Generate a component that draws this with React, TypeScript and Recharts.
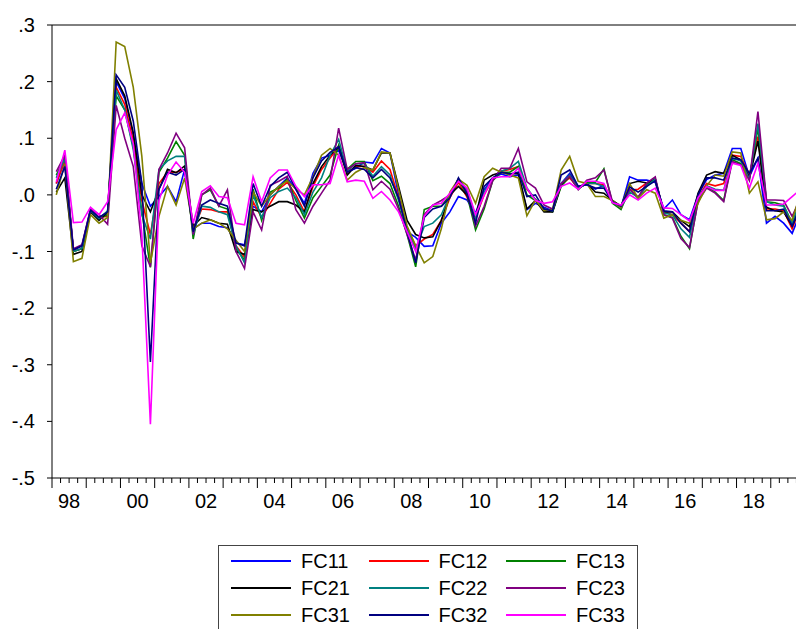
import React from 'react';
import { LineChart, Line, XAxis, YAxis, ReferenceLine } from 'recharts';

// Quarterly observations 1998Q1 .. 2019Q4 (88 quarters)
const FC11 = [0.02, 0.06, -0.098, -0.09, -0.025, -0.04, -0.035, 0.2, 0.17, 0.105, 0.02, -0.02, -0.003, 0.015, -0.012, 0.045, -0.06, -0.05, -0.05, -0.056, -0.058, -0.085, -0.088, -0.02, -0.03, 0.0, 0.015, 0.03, 0.01, -0.015, 0.038, 0.065, 0.07, 0.079, 0.04, 0.047, 0.058, 0.056, 0.082, 0.074, 0.0, -0.065, -0.075, -0.091, -0.09, -0.05, -0.03, -0.003, -0.009, -0.032, 0.009, 0.03, 0.037, 0.032, 0.035, -0.026, -0.015, -0.022, -0.028, 0.02, 0.038, 0.015, 0.018, 0.01, 0.017, -0.012, -0.022, 0.032, 0.026, 0.026, 0.022, -0.025, -0.009, -0.035, -0.044, 0.0, 0.027, 0.035, 0.038, 0.082, 0.082, 0.032, 0.065, -0.05, -0.038, -0.05, -0.068, -0.03];
const FC12 = [0.02, 0.062, -0.1, -0.095, -0.028, -0.04, -0.038, 0.19, 0.16, 0.095, -0.01, -0.07, 0.02, 0.04, 0.04, 0.045, -0.062, -0.025, -0.026, -0.03, -0.03, -0.09, -0.11, -0.012, -0.04, -0.015, 0.01, 0.022, 0.0, -0.03, 0.015, 0.045, 0.065, 0.085, 0.04, 0.05, 0.05, 0.04, 0.06, 0.045, -0.005, -0.06, -0.09, -0.078, -0.07, -0.045, -0.005, 0.022, -0.004, -0.04, 0.0, 0.028, 0.042, 0.045, 0.05, 0.01, -0.008, -0.025, -0.028, 0.018, 0.03, 0.012, 0.02, 0.02, 0.018, -0.012, -0.022, 0.008, 0.01, 0.021, 0.025, -0.03, -0.035, -0.05, -0.065, -0.005, 0.02, 0.016, 0.02, 0.07, 0.068, 0.035, 0.103, -0.025, -0.025, -0.028, -0.06, -0.02];
const FC13 = [0.035, 0.065, -0.1, -0.095, -0.028, -0.042, -0.035, 0.175, 0.15, 0.085, -0.03, -0.128, 0.04, 0.065, 0.094, 0.07, -0.078, 0.0, 0.009, -0.02, -0.025, -0.095, -0.115, 0.01, -0.045, 0.005, 0.012, 0.028, -0.01, -0.041, -0.005, 0.015, 0.035, 0.088, 0.045, 0.059, 0.059, 0.025, 0.033, 0.02, -0.02, -0.07, -0.127, -0.026, -0.02, -0.02, 0.0, 0.028, 0.0, -0.062, -0.025, 0.025, 0.04, 0.04, 0.05, 0.0, -0.01, -0.025, -0.03, 0.015, 0.033, 0.01, 0.022, 0.022, 0.046, -0.015, -0.026, 0.01, -0.006, 0.018, 0.028, -0.035, -0.04, -0.073, -0.095, -0.01, 0.015, 0.005, -0.01, 0.062, 0.055, 0.03, 0.118, -0.012, -0.014, -0.018, -0.05, -0.01];
const FC21 = [0.005, 0.03, -0.105, -0.1, -0.03, -0.045, -0.03, 0.205, 0.175, 0.11, 0.0, -0.03, 0.01, 0.045, 0.039, 0.051, -0.055, -0.04, -0.044, -0.05, -0.052, -0.1, -0.105, -0.026, -0.03, -0.02, -0.012, -0.012, -0.018, -0.03, 0.02, 0.05, 0.07, 0.085, 0.035, 0.052, 0.05, 0.044, 0.074, 0.074, 0.015, -0.045, -0.07, -0.076, -0.074, -0.045, 0.0, 0.015, 0.0, -0.04, 0.026, 0.035, 0.04, 0.037, 0.038, -0.025, -0.01, -0.03, -0.03, 0.018, 0.035, 0.012, 0.02, 0.005, 0.003, -0.01, -0.02, 0.02, 0.024, 0.021, 0.028, -0.03, -0.03, -0.045, -0.056, 0.003, 0.035, 0.041, 0.038, 0.07, 0.062, 0.03, 0.095, -0.022, -0.028, -0.03, -0.055, -0.02];
const FC22 = [0.03, 0.065, -0.1, -0.095, -0.028, -0.042, -0.028, 0.185, 0.15, 0.08, -0.035, -0.078, 0.045, 0.06, 0.068, 0.068, -0.07, -0.02, -0.022, -0.03, -0.035, -0.09, -0.12, 0.0, -0.04, -0.005, 0.006, 0.012, -0.005, -0.035, 0.005, 0.03, 0.07, 0.098, 0.042, 0.055, 0.055, 0.033, 0.05, 0.035, -0.01, -0.06, -0.095, -0.056, -0.05, -0.035, 0.0, 0.026, 0.01, -0.04, 0.005, 0.028, 0.042, 0.047, 0.059, 0.012, -0.008, -0.025, -0.028, 0.02, 0.035, 0.012, 0.02, 0.02, 0.015, -0.012, -0.022, 0.005, -0.004, 0.015, 0.028, -0.032, -0.035, -0.06, -0.075, -0.005, 0.016, 0.01, 0.008, 0.065, 0.06, 0.028, 0.126, -0.012, -0.018, -0.02, -0.05, -0.01];
const FC23 = [0.041, 0.07, -0.095, -0.088, -0.025, -0.035, -0.052, 0.158, 0.1, 0.05, -0.09, -0.127, 0.045, 0.074, 0.109, 0.083, -0.07, 0.0, 0.012, -0.02, 0.009, -0.1, -0.13, -0.03, -0.062, 0.017, 0.024, 0.033, -0.026, -0.05, -0.02, 0.003, 0.026, 0.118, 0.045, 0.055, 0.057, 0.009, 0.024, 0.01, -0.025, -0.07, -0.115, -0.035, -0.018, -0.01, 0.0, 0.028, 0.005, -0.055, -0.02, 0.025, 0.047, 0.047, 0.082, 0.023, 0.012, -0.018, -0.025, 0.02, 0.033, 0.009, 0.026, 0.03, 0.044, -0.012, -0.022, 0.01, -0.004, 0.021, 0.032, -0.035, -0.041, -0.077, -0.093, -0.012, 0.012, 0.003, -0.012, 0.059, 0.053, 0.025, 0.147, -0.009, -0.009, -0.01, -0.038, -0.005];
const FC31 = [0.0, 0.055, -0.118, -0.112, -0.035, -0.05, -0.04, 0.27, 0.262, 0.19, 0.068, -0.12, -0.038, 0.015, -0.018, 0.03, -0.06, -0.05, -0.044, -0.05, -0.06, -0.08, -0.1, 0.005, -0.02, 0.0, 0.015, 0.025, 0.01, 0.0, 0.032, 0.07, 0.082, 0.07, 0.026, 0.04, 0.048, 0.044, 0.076, 0.074, 0.01, -0.055, -0.09, -0.12, -0.109, -0.06, 0.005, 0.028, 0.017, -0.015, 0.032, 0.047, 0.04, 0.035, 0.03, -0.037, -0.009, -0.028, -0.026, 0.044, 0.068, 0.024, 0.02, -0.003, -0.003, -0.01, -0.022, 0.02, -0.006, 0.009, 0.003, -0.041, -0.035, -0.045, -0.05, -0.015, 0.016, 0.035, 0.033, 0.076, 0.074, 0.003, 0.023, -0.044, -0.042, -0.03, -0.045, 0.005];
const FC32 = [0.01, 0.05, -0.097, -0.09, -0.027, -0.04, -0.03, 0.212, 0.19, 0.13, 0.02, -0.295, 0.01, 0.04, 0.035, 0.045, -0.065, -0.018, -0.009, -0.015, -0.02, -0.085, -0.09, 0.02, -0.02, 0.015, 0.03, 0.04, 0.01, -0.02, 0.03, 0.06, 0.075, 0.085, 0.04, 0.048, 0.045, 0.03, 0.045, 0.03, -0.005, -0.065, -0.12, -0.04, -0.025, -0.02, -0.005, 0.03, 0.002, -0.05, 0.015, 0.03, 0.04, 0.037, 0.04, -0.003, 0.0, -0.025, -0.028, 0.035, 0.044, 0.015, 0.018, 0.012, 0.012, -0.012, -0.02, 0.014, 0.005, 0.015, 0.025, -0.028, -0.03, -0.05, -0.065, 0.0, 0.03, 0.03, 0.026, 0.065, 0.062, 0.038, 0.065, -0.028, -0.028, -0.025, -0.055, -0.02];
const FC33 = [0.023, 0.079, -0.049, -0.048, -0.022, -0.035, -0.012, 0.115, 0.145, 0.09, -0.07, -0.405, -0.01, 0.035, 0.058, 0.04, -0.05, 0.006, 0.016, -0.003, -0.005, -0.05, -0.053, 0.032, -0.012, 0.03, 0.044, 0.044, 0.015, -0.003, 0.018, 0.018, 0.02, 0.07, 0.023, 0.026, 0.024, -0.006, 0.006, -0.009, -0.03, -0.065, -0.1, -0.038, -0.018, -0.015, 0.003, 0.024, 0.012, -0.035, 0.0, 0.03, 0.032, 0.032, 0.047, 0.012, -0.01, -0.015, -0.012, 0.015, 0.021, 0.01, 0.024, 0.024, 0.02, -0.014, -0.018, 0.0, -0.009, 0.003, 0.012, -0.023, -0.024, -0.035, -0.046, -0.005, 0.015, 0.008, 0.008, 0.056, 0.052, 0.012, 0.056, -0.018, -0.018, -0.016, -0.003, 0.01];

const yTicks = [-0.5, -0.4, -0.3, -0.2, -0.1, 0.0, 0.1, 0.2, 0.3];
const yearLabels = ['98', '00', '02', '04', '06', '08', '10', '12', '14', '16', '18'];

const SERIES = [
  { key: 'FC11', values: FC11, color: '#0000FF' },
  { key: 'FC12', values: FC12, color: '#FF0000' },
  { key: 'FC13', values: FC13, color: '#008000' },
  { key: 'FC21', values: FC21, color: '#000000' },
  { key: 'FC22', values: FC22, color: '#008080' },
  { key: 'FC23', values: FC23, color: '#800080' },
  { key: 'FC31', values: FC31, color: '#808000' },
  { key: 'FC32', values: FC32, color: '#000080' },
  { key: 'FC33', values: FC33, color: '#FF00FF' },
];

const data = FC11.map((_, i) => {
  const row: Record<string, number> = { t: i };
  SERIES.forEach((s) => { row[s.key] = s.values[i]; });
  return row;
});

const nQ = FC11.length;
const xTicks = Array.from({ length: nQ + 1 }, (_, k) => k - 0.5);

const FONT = 'Arial, "Liberation Sans", Helvetica, sans-serif';

const fmtY = (v: number) => {
  const s = Math.abs(v) < 1e-9 ? '0.0' : v.toFixed(1);
  return s.replace(/^(-?)0\./, '$1.');
};

const XTick = (props: any) => {
  const { x, y, payload } = props;
  const k = Math.round(payload.value + 0.5);
  const long = k % 4 === 0;
  const label = k % 8 === 2 ? yearLabels[(k - 2) / 8] : undefined;
  return (
    <g>
      <line x1={x} x2={x} y1={y} y2={y + (long ? 10 : 5)} stroke="#000" strokeWidth={1} />
      {label !== undefined && (
        <text x={x} y={y + 30} textAnchor="middle" fontSize={20} fontFamily={FONT} fill="#000">
          {label}
        </text>
      )}
    </g>
  );
};

export default function App() {
  return (
    <div style={{ position: 'absolute', left: 0, top: 0, width: 796, height: 629, overflow: 'hidden', background: '#fff' }}>
      <LineChart width={820} height={629} data={data} margin={{ top: 25, right: 15, left: 0, bottom: 111 }}>
        <XAxis
          dataKey="t"
          type="number"
          domain={[-0.5, nQ - 0.5]}
          ticks={xTicks}
          interval={0}
          tickSize={0}
          tickMargin={0}
          tickLine={false}
          tick={<XTick />}
          height={40}
          axisLine={{ stroke: '#000' }}
          allowDataOverflow
        />
        <YAxis
          type="number"
          domain={[-0.5, 0.3]}
          ticks={yTicks}
          interval={0}
          width={52}
          tickSize={5}
          tickMargin={12}
          tickFormatter={fmtY}
          tick={{ fill: '#000', fontSize: 20, fontFamily: FONT }}
          tickLine={{ stroke: '#000' }}
          axisLine={{ stroke: '#000' }}
          allowDataOverflow
        />
        <ReferenceLine y={0.3} stroke="#000" strokeWidth={1} ifOverflow="visible" />
        {SERIES.map((s) => (
          <Line
            key={s.key}
            dataKey={s.key}
            stroke={s.color}
            strokeWidth={1.6}
            dot={false}
            type="linear"
            isAnimationActive={false}
          />
        ))}
      </LineChart>
      <div
        style={{
          position: 'absolute',
          left: 218,
          top: 545,
          width: 420,
          height: 100,
          border: '1px solid #444',
          boxSizing: 'border-box',
          background: '#fff',
        }}
      >
        {SERIES.map((s, idx) => {
          const col = idx % 3;
          const row = Math.floor(idx / 3);
          const cy = 15 + row * 27;
          return (
            <React.Fragment key={s.key}>
              <div
                style={{
                  position: 'absolute',
                  left: 12 + col * 137.5,
                  top: cy - 1,
                  width: 60,
                  height: 2,
                  background: s.color,
                }}
              />
              <div
                style={{
                  position: 'absolute',
                  left: 82 + col * 137.5,
                  top: cy - 12,
                  height: 24,
                  lineHeight: '24px',
                  fontSize: 20,
                  fontFamily: FONT,
                  color: '#000',
                  whiteSpace: 'nowrap',
                }}
              >
                {s.key}
              </div>
            </React.Fragment>
          );
        })}
      </div>
    </div>
  );
}
